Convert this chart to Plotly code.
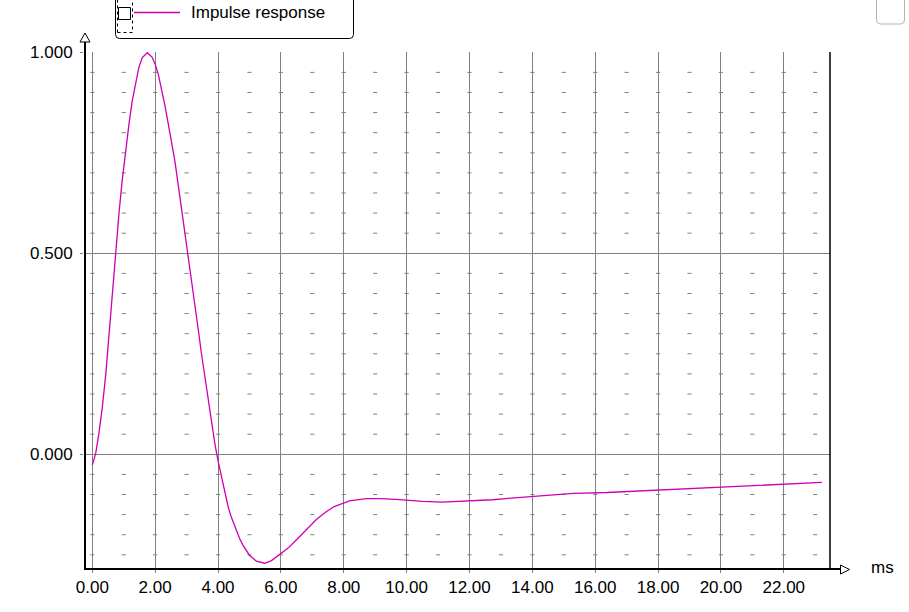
import plotly.graph_objects as go
import numpy as np

# ---- data ----
time_ms = [0, 0.11, 0.21, 0.32, 0.43, 0.53, 0.64, 0.74, 0.85, 0.95, 1.06, 1.17, 1.27, 1.38,
           1.48, 1.59, 1.75, 1.9, 2.0, 2.1, 2.2, 2.31, 2.41, 2.52, 2.63, 2.73, 2.84, 2.94,
           3.05, 3.16, 3.26, 3.37, 3.47, 3.58, 3.68, 3.79, 3.9, 4.0, 4.11, 4.21, 4.32, 4.43,
           4.53, 4.69, 4.79, 5.0, 5.22, 5.48, 5.69, 5.96, 6.22, 6.49, 6.8, 7.12, 7.44, 7.7,
           7.97, 8.18, 8.71, 9.13, 9.66, 10.09, 10.5, 11.14, 11.78, 12.36, 12.73, 13.16,
           13.9, 14.46, 15.3, 16.37, 17.2, 17.85, 18.5, 19.12, 19.86, 20.5, 21.25, 21.99,
           22.73, 23.21]
impulse = [-0.027, 0.003, 0.052, 0.118, 0.2, 0.295, 0.40, 0.505, 0.6, 0.68, 0.757, 0.823,
           0.879, 0.927, 0.962, 0.987, 0.999, 0.988, 0.97, 0.945, 0.91, 0.868, 0.825, 0.78,
           0.728, 0.672, 0.612, 0.555, 0.495, 0.434, 0.373, 0.311, 0.252, 0.193, 0.136, 0.078,
           0.026, -0.016, -0.058, -0.095, -0.13, -0.158, -0.18, -0.21, -0.226, -0.251, -0.266,
           -0.271, -0.265, -0.25, -0.234, -0.213, -0.188, -0.163, -0.143, -0.13, -0.122,
           -0.116, -0.110, -0.110, -0.112, -0.115, -0.117, -0.119, -0.117, -0.115, -0.113,
           -0.110, -0.105, -0.102, -0.097, -0.095, -0.092, -0.090, -0.087, -0.085, -0.082,
           -0.080, -0.076, -0.074, -0.071, -0.070]
x_ticks = [0, 2, 4, 6, 8, 10, 12, 14, 16, 18, 20, 22]
x_ticktext = ["0.00", "2.00", "4.00", "6.00", "8.00", "10.00", "12.00", "14.00",
              "16.00", "18.00", "20.00", "22.00"]
y_ticks = [0.0, 0.5, 1.0]
y_ticktext = ["0.000", "0.500", "1.000"]
series_name = "Impulse response"
x_unit = "ms"

# ---- layout geometry (page pixels) ----
W_PX, H_PX = 909, 612
L, R, T, B = 84, 830, 52, 569
PW, PH = R - L, B - T

def px(x):
    return (x - L) / PW

def py(y):
    return (B - y) / PH

FONT = "Liberation Sans, Arial, sans-serif"
GRID = "#808080"
CURVE = "#cc00b4"

fig = go.Figure()

# minor dash grid
mx, my = np.meshgrid(np.arange(0, 24, 1.0), np.arange(-0.25, 0.96, 0.05))
mask = ~(np.isclose(my, 0.0) | np.isclose(my, 0.5))
fig.add_trace(go.Scatter(
    x=mx[mask], y=my[mask], mode="markers", hoverinfo="skip", showlegend=False,
    marker=dict(symbol="line-ew", size=3, line=dict(color=GRID, width=1)),
))

fig.add_trace(go.Scatter(
    x=time_ms, y=impulse, mode="lines", name=series_name, showlegend=False,
    line=dict(color=CURVE, width=1.3),
))

shapes = []
# right border
shapes.append(dict(type="line", xref="paper", yref="paper", x0=1, x1=1, y0=0, y1=1,
                   line=dict(color="black", width=1.5)))
# y axis with arrow
shapes.append(dict(type="line", xref="paper", yref="paper", x0=px(85), x1=px(85),
                   y0=0, y1=py(42), line=dict(color="black", width=2)))
shapes.append(dict(type="path", xref="paper", yref="paper",
                   path=f"M {px(85)} {py(33)} L {px(80)} {py(42)} L {px(90)} {py(42)} Z",
                   fillcolor="white", line=dict(color="black", width=1)))
# x axis with arrow
shapes.append(dict(type="line", xref="paper", yref="paper", x0=0, x1=px(840),
                   y0=py(569), y1=py(569), line=dict(color="black", width=2)))
shapes.append(dict(type="path", xref="paper", yref="paper",
                   path=f"M {px(849.5)} {py(569.5)} L {px(840.5)} {py(565)} L {px(840.5)} {py(574)} Z",
                   fillcolor="white", line=dict(color="black", width=1)))

def rrect(x0, y0, x1, y1, r):
    return (f"M {px(x0 + r)} {py(y0)} L {px(x1 - r)} {py(y0)} "
            f"Q {px(x1)} {py(y0)} {px(x1)} {py(y0 + r)} L {px(x1)} {py(y1 - r)} "
            f"Q {px(x1)} {py(y1)} {px(x1 - r)} {py(y1)} L {px(x0 + r)} {py(y1)} "
            f"Q {px(x0)} {py(y1)} {px(x0)} {py(y1 - r)} L {px(x0)} {py(y0 + r)} "
            f"Q {px(x0)} {py(y0)} {px(x0 + r)} {py(y0)} Z")

# legend box
shapes.append(dict(type="path", xref="paper", yref="paper", path=rrect(115.5, -10, 353.5, 38.5, 4),
                   fillcolor="white", line=dict(color="black", width=1)))
shapes.append(dict(type="rect", xref="paper", yref="paper", x0=px(117.5), x1=px(132.5),
                   y0=py(32.5), y1=py(-5), line=dict(color="black", width=1, dash="dot")))
shapes.append(dict(type="rect", xref="paper", yref="paper", x0=px(118.5), x1=px(130.5),
                   y0=py(19.5), y1=py(7.5), fillcolor="white", line=dict(color="black", width=1)))
shapes.append(dict(type="line", xref="paper", yref="paper", x0=px(134), x1=px(180),
                   y0=py(12.5), y1=py(12.5), line=dict(color=CURVE, width=1.3)))
# top-right box
shapes.append(dict(type="path", xref="paper", yref="paper", path=rrect(876.5, -10, 904.5, 24, 4),
                   fillcolor="white", line=dict(color="#b4b4b4", width=1)))

annotations = [
    dict(text=series_name, xref="paper", yref="paper", x=px(189), y=py(13),
         xanchor="left", yanchor="middle", showarrow=False,
         font=dict(family=FONT, size=17, color="black")),
    dict(text=x_unit, xref="paper", yref="paper", x=px(869), y=py(567),
         xanchor="left", yanchor="middle", showarrow=False,
         font=dict(family=FONT, size=17, color="black")),
]

fig.update_layout(
    width=W_PX, height=H_PX,
    margin=dict(l=L, r=W_PX - R, t=T, b=H_PX - B, pad=0),
    paper_bgcolor="white", plot_bgcolor="white",
    font=dict(family=FONT, size=17, color="black"),
    shapes=shapes, annotations=annotations, showlegend=False,
    xaxis=dict(range=[-0.264, 23.47], tickvals=x_ticks, ticktext=x_ticktext,
               showgrid=True, gridcolor=GRID, gridwidth=1, zeroline=False,
               ticks="outside", ticklen=3, tickcolor=GRID, showline=False,
               ticklabelstandoff=0),
    yaxis=dict(range=[-0.2853, 1.0007], tickvals=y_ticks, ticktext=y_ticktext,
               showgrid=True, gridcolor=GRID, gridwidth=1, zeroline=False,
               ticks="outside", ticklen=3, tickcolor=GRID, showline=False,
               ticklabelstandoff=4),
)

# remove the browser's default 8px body margin so the figure sits at the page origin
fig.write_html("out.html", config={"displayModeBar": False},
               post_script="document.body.style.margin='0';")
